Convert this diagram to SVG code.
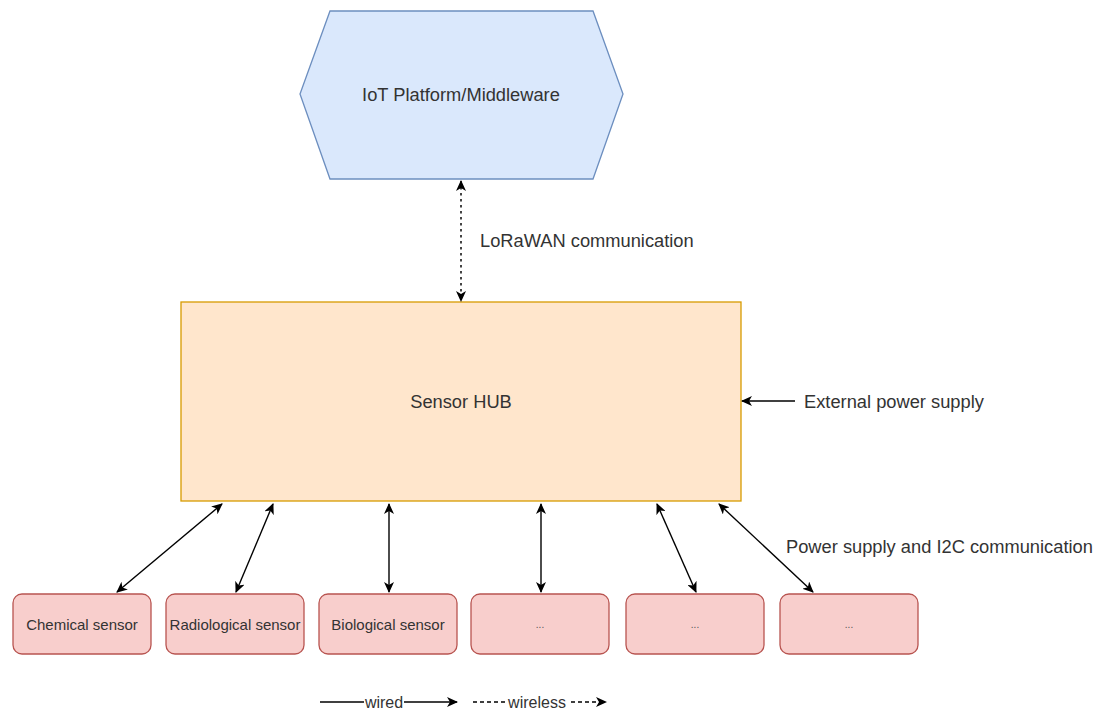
<svg xmlns="http://www.w3.org/2000/svg" width="1099" height="709" viewBox="0 0 1099 709">
<style>
text{font-family:"Liberation Sans",Arial,sans-serif;fill:#333333;dominant-baseline:central}
.lbl{font-size:18.3px}
.sm{font-size:15px;text-anchor:middle}
.dots{font-size:10px;text-anchor:middle;fill:#555}
.sensor{fill:#f8cecc;stroke:#b85450;stroke-width:1.3}
.conn{stroke:#000;stroke-width:1.4;fill:none}
</style>
<defs>
<marker id="ah" markerUnits="userSpaceOnUse" markerWidth="12" markerHeight="10" refX="10" refY="5" orient="auto-start-reverse">
<path d="M0,0 L11,5 L0,10 L3,5 z" fill="#000"/>
</marker>
</defs>
<rect width="1099" height="709" fill="#fff"/>
<g id="iot">
<polygon points="330,11 593,11 623,94 593,179 330,179 300,94" fill="#dae8fc" stroke="#6c8ebf" stroke-width="1.3"/>
<text class="lbl" x="461" y="94" text-anchor="middle">IoT Platform/Middleware</text>
</g>
<g id="hub">
<rect x="181" y="302" width="560" height="199" fill="#ffe6cc" stroke="#d79b00" stroke-width="1.3"/>
<text class="lbl" x="461" y="401" text-anchor="middle">Sensor HUB</text>
</g>
<g id="s1"><rect class="sensor" x="13" y="594" width="138" height="60" rx="9"/><text class="sm" x="82" y="624">Chemical sensor</text></g>
<g id="s2"><rect class="sensor" x="166" y="594" width="138" height="60" rx="9"/><text class="sm" x="235" y="624">Radiological sensor</text></g>
<g id="s3"><rect class="sensor" x="319" y="594" width="138" height="60" rx="9"/><text class="sm" x="388" y="624">Biological sensor</text></g>
<g id="s4"><rect class="sensor" x="471" y="594" width="138" height="60" rx="9"/><text class="dots" x="540" y="624">...</text></g>
<g id="s5"><rect class="sensor" x="626" y="594" width="138" height="60" rx="9"/><text class="dots" x="695" y="624">...</text></g>
<g id="s6"><rect class="sensor" x="780" y="594" width="138" height="60" rx="9"/><text class="dots" x="849" y="624">...</text></g>
<g id="connectors">
<line x1="461" y1="181" x2="461" y2="301" stroke="#444" stroke-width="2" stroke-dasharray="2.5 3.5" marker-start="url(#ah)" marker-end="url(#ah)"/>
<line class="conn" x1="795" y1="401" x2="742" y2="401" marker-end="url(#ah)"/>
<line class="conn" x1="222" y1="504" x2="117" y2="592" marker-start="url(#ah)" marker-end="url(#ah)"/>
<line class="conn" x1="273" y1="504" x2="236" y2="592" marker-start="url(#ah)" marker-end="url(#ah)"/>
<line class="conn" x1="389" y1="504" x2="389" y2="592" marker-start="url(#ah)" marker-end="url(#ah)"/>
<line class="conn" x1="541" y1="504" x2="541" y2="592" marker-start="url(#ah)" marker-end="url(#ah)"/>
<line class="conn" x1="657" y1="504" x2="696" y2="592" marker-start="url(#ah)" marker-end="url(#ah)"/>
<line class="conn" x1="719" y1="504" x2="813" y2="592" marker-start="url(#ah)" marker-end="url(#ah)"/>
</g>
<g id="labels">
<text class="lbl" x="480" y="240">LoRaWAN communication</text>
<text class="lbl" x="804" y="401">External power supply</text>
<text class="lbl" x="786" y="546">Power supply and I2C communication</text>
</g>
<g id="legend">
<line class="conn" x1="320" y1="702" x2="457" y2="702" marker-end="url(#ah)"/>
<rect x="364" y="694" width="40" height="16" fill="#fff"/>
<text x="384" y="702" font-size="16" text-anchor="middle">wired</text>
<line class="conn" x1="473" y1="702" x2="606" y2="702" stroke-dasharray="4 3" marker-end="url(#ah)"/>
<rect x="506" y="694" width="62" height="16" fill="#fff"/>
<text x="537" y="702" font-size="16" text-anchor="middle">wireless</text>
</g>
</svg>
